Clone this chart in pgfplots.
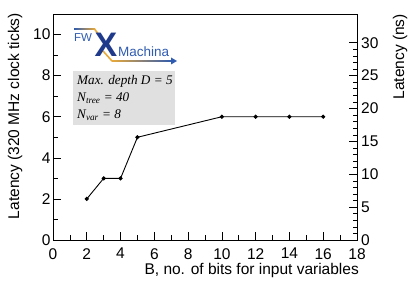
\documentclass[border=0pt]{standalone}
\usepackage{fontspec}
\setmainfont{Liberation Sans}
\newfontfamily\timesfont{Liberation Serif}
\usepackage{pgfplots}
\pgfplotsset{compat=1.18}
\definecolor{logoblue}{HTML}{2F5BB0}
\definecolor{logonavy}{HTML}{1F3A8A}
\definecolor{logogold}{HTML}{E8A93A}
\begin{document}
\begin{tikzpicture}[x=1pt,y=1pt]
\path[use as bounding box] (0,0) rectangle (411,283);
\begin{axis}[
  at={(53pt,43pt)}, anchor=south west,
  scale only axis, width=304pt, height=226pt,
  xmin=0, xmax=18, ymin=0, ymax=11,
  xtick={0,2,...,18}, minor x tick num=1,
  ytick={0,2,...,10}, minor y tick num=1,
  xtick pos=bottom, ytick pos=left,
  tick align=inside,
  major tick length=8pt, minor tick length=4.5pt,
  tick style={black, line width=0.6pt},
  axis line style={line width=0.7pt},
  ticklabel style={font=\fontsize{15.5}{15.5}\selectfont},
  /pgf/number format/assume math mode=true,
  xticklabel style={inner sep=1pt, yshift=-7pt},
  yticklabel style={xshift=1pt},
  clip=false,
]
\addplot[black, line width=0.9pt, mark=*, mark size=1.6pt]
  coordinates {(2,2) (3,3) (4,3) (5,5) (10,6) (12,6) (14,6) (16,6)};
\end{axis}
\begin{axis}[
  at={(53pt,43pt)}, anchor=south west,
  scale only axis, width=304pt, height=226pt,
  xmin=0, xmax=18, ymin=0, ymax=34.375,
  axis x line=none, axis y line*=right,
  ytick={0,5,...,30}, minor y tick num=4,
  tick align=inside,
  major tick length=8pt, minor tick length=4.5pt,
  tick style={black, line width=0.6pt},
  axis line style={line width=0.7pt},
  ticklabel style={font=\fontsize{15.5}{15.5}\selectfont},
  yticklabel style={inner sep=1pt, xshift=3pt},
  /pgf/number format/assume math mode=true,
]
\end{axis}
% axis titles
\node[rotate=90, anchor=east, inner sep=0pt, font=\fontsize{15.5}{15.5}\selectfont] at (15,270) {Latency (320 MHz clock ticks)};
\node[rotate=90, anchor=east, inner sep=0pt, font=\fontsize{15.5}{15.5}\selectfont] at (400,269) {Latency (ns)};
\node[anchor=base east, inner sep=0pt, font=\fontsize{15.5}{15.5}\selectfont] at (359,8.5) {B, no. of bits for input variables};
% text box
\fill[black!12] (73,158) rectangle (175,212);
\node[anchor=base west, inner sep=0pt, font=\timesfont\itshape\fontsize{13.2}{13.2}\selectfont] at (77,198) {Max. depth D = 5};
\node[anchor=base west, inner sep=0pt, font=\timesfont\itshape\fontsize{13.2}{13.2}\selectfont] at (77,181) {N\textsubscript{tree} = 40};
\node[anchor=base west, inner sep=0pt, font=\timesfont\itshape\fontsize{13.2}{13.2}\selectfont] at (77,164) {N\textsubscript{var} = 8};
% logo
\shade[left color=logoblue, right color=logogold] (74,253.2) rectangle (95,254.8);
\draw[logogold, line width=1.6pt] (94.5,254) -- (108,236);
\draw[logogold, line width=1.6pt] (103,232) -- (112,222);
\shade[left color=logogold, right color=logoblue] (111.5,221.2) rectangle (172,222.8);
\fill[logoblue] (171,218.5) -- (177,222) -- (171,225.5) -- cycle;
\node[anchor=base west, inner sep=0pt, text=logoblue, font=\fontsize{11.5}{11.5}\selectfont] at (74,241) {FW};
\node[anchor=base west, inner sep=0pt, text=logonavy, font=\bfseries\fontsize{34}{34}\selectfont] at (94.5,226) {X};
\node[anchor=base west, inner sep=0pt, text=logoblue, font=\fontsize{13.5}{13.5}\selectfont] at (118,226.5) {Machina};
\end{tikzpicture}
\end{document}
